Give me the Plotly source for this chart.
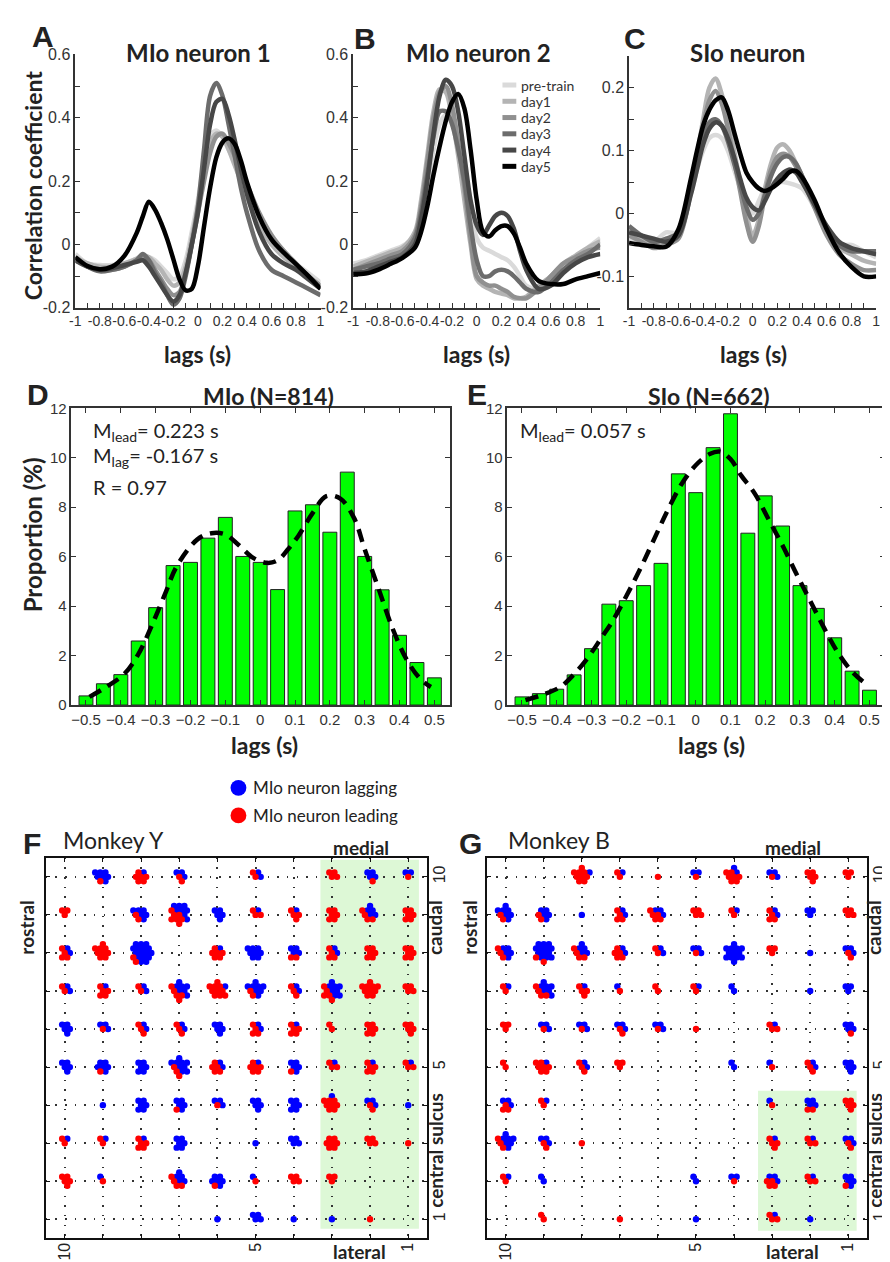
import math
import plotly.graph_objects as go

W, H = 890, 1262

# ---------------- data: cross-correlation curves (panels A-C) ----------------
lag_x = [-1, -0.9, -0.8, -0.7, -0.6, -0.5, -0.45, -0.4, -0.35, -0.3, -0.25, -0.2, -0.15, -0.1, -0.05,
         0, 0.05, 0.1, 0.15, 0.2, 0.25, 0.3, 0.35, 0.4, 0.5, 0.6, 0.7, 0.8, 0.9, 1.0]
session_names = ["pre-train", "day1", "day2", "day3", "day4", "day5"]
session_colors = ["#dadada", "#b4b4b4", "#909090", "#6c6c6c", "#474747", "#000000"]

mio1_pretrain = [-0.03, -0.06, -0.065, -0.065, -0.06, -0.045, -0.04, -0.04, -0.05, -0.07, -0.09, -0.11, -0.1, -0.05, 0.04,
                 0.14, 0.26, 0.34, 0.36, 0.34, 0.3, 0.26, 0.22, 0.17, 0.08, 0.02, -0.02, -0.06, -0.09, -0.12]
mio1_day1 = [-0.04, -0.06, -0.07, -0.07, -0.06, -0.045, -0.035, -0.04, -0.06, -0.08, -0.11, -0.13, -0.12, -0.07, 0.02,
             0.12, 0.23, 0.32, 0.35, 0.34, 0.3, 0.25, 0.2, 0.15, 0.06, 0.0, -0.04, -0.07, -0.1, -0.13]
mio1_day2 = [-0.05, -0.07, -0.08, -0.08, -0.07, -0.05, -0.04, -0.05, -0.08, -0.11, -0.14, -0.16, -0.15, -0.09, 0.0,
             0.1, 0.2, 0.29, 0.34, 0.35, 0.32, 0.28, 0.23, 0.19, 0.1, 0.03, -0.02, -0.06, -0.1, -0.13]
mio1_day3 = [-0.04, -0.07, -0.085, -0.08, -0.07, -0.05, -0.03, -0.05, -0.09, -0.12, -0.16, -0.19, -0.17, -0.1, 0.0,
             0.12, 0.3, 0.47, 0.51, 0.47, 0.38, 0.28, 0.18, 0.1, -0.02, -0.08, -0.1, -0.12, -0.14, -0.16]
mio1_day4 = [-0.05, -0.07, -0.08, -0.075, -0.065, -0.055, -0.05, -0.07, -0.1, -0.13, -0.16, -0.18, -0.16, -0.09, 0.0,
             0.1, 0.24, 0.38, 0.45, 0.46, 0.41, 0.33, 0.24, 0.16, 0.04, -0.03, -0.06, -0.08, -0.11, -0.14]
mio1_day5 = [-0.04, -0.068, -0.078, -0.07, -0.036, 0.036, 0.088, 0.135, 0.11, 0.068, 0.016, -0.047, -0.11, -0.145, -0.14,
             -0.068, 0.057, 0.18, 0.275, 0.322, 0.335, 0.317, 0.265, 0.197, 0.088, 0.016, -0.026, -0.062, -0.099, -0.14]

mio2_pretrain = [-0.06, -0.05, -0.035, -0.02, -0.005, 0.03, 0.09, 0.18, 0.3, 0.38, 0.41, 0.4, 0.33, 0.22, 0.1,
                 0.02, -0.01, -0.02, -0.03, -0.04, -0.05, -0.07, -0.1, -0.13, -0.14, -0.11, -0.07, -0.04, -0.01, 0.02]
mio2_day1 = [-0.07, -0.055, -0.04, -0.025, -0.01, 0.04, 0.14, 0.28, 0.42, 0.49, 0.48, 0.4, 0.28, 0.14, 0.0,
             -0.11, -0.13, -0.14, -0.15, -0.155, -0.16, -0.17, -0.17, -0.165, -0.13, -0.1, -0.06, -0.035, -0.01, 0.01]
mio2_day2 = [-0.08, -0.065, -0.05, -0.035, -0.02, 0.03, 0.12, 0.26, 0.4, 0.48, 0.5, 0.44, 0.32, 0.18, 0.02,
             -0.1, -0.12, -0.13, -0.13, -0.14, -0.15, -0.165, -0.17, -0.17, -0.14, -0.1, -0.06, -0.04, -0.02, -0.01]
mio2_day3 = [-0.08, -0.07, -0.06, -0.045, -0.03, 0.02, 0.1, 0.22, 0.34, 0.42, 0.42, 0.38, 0.3, 0.2, 0.06,
             -0.05, -0.1, -0.1, -0.085, -0.08, -0.085, -0.1, -0.12, -0.14, -0.15, -0.12, -0.08, -0.05, -0.03, 0.0]
mio2_day4 = [-0.09, -0.085, -0.07, -0.055, -0.04, 0.0, 0.08, 0.2, 0.35, 0.47, 0.52, 0.5, 0.42, 0.28, 0.14,
             0.06, 0.03, 0.06, 0.09, 0.1, 0.09, 0.05, -0.02, -0.08, -0.14, -0.13, -0.09, -0.06, -0.04, -0.03]
mio2_day5 = [-0.094, -0.092, -0.08, -0.062, -0.042, -0.01, 0.04, 0.12, 0.22, 0.31, 0.39, 0.45, 0.475, 0.43, 0.3,
             0.14, 0.04, 0.025, 0.045, 0.058, 0.058, 0.035, -0.01, -0.06, -0.115, -0.125, -0.125, -0.11, -0.1, -0.09]

sio_pretrain = [-0.04, -0.045, -0.045, -0.03, -0.03, 0.03, 0.07, 0.1, 0.12, 0.125, 0.12, 0.1, 0.07, 0.04, 0.015,
                0.0, 0.02, 0.04, 0.05, 0.05, 0.05, 0.048, 0.045, 0.04, 0.01, -0.03, -0.05, -0.05, -0.06, -0.07]
sio_day1 = [-0.025, -0.04, -0.05, -0.045, -0.035, 0.04, 0.09, 0.15, 0.2, 0.215, 0.19, 0.15, 0.1, 0.05, 0.0,
            -0.035, -0.01, 0.04, 0.08, 0.105, 0.11, 0.1, 0.08, 0.06, 0.015, -0.03, -0.055, -0.065, -0.075, -0.08]
sio_day2 = [-0.035, -0.045, -0.055, -0.05, -0.04, 0.035, 0.085, 0.14, 0.18, 0.195, 0.175, 0.135, 0.085, 0.035, -0.015,
            -0.045, -0.02, 0.03, 0.07, 0.09, 0.095, 0.09, 0.075, 0.055, 0.01, -0.035, -0.065, -0.08, -0.09, -0.09]
sio_day3 = [-0.02, -0.035, -0.045, -0.04, -0.03, 0.035, 0.08, 0.12, 0.145, 0.15, 0.14, 0.115, 0.08, 0.045, 0.01,
            -0.01, 0.0, 0.03, 0.06, 0.08, 0.09, 0.09, 0.08, 0.06, 0.015, -0.025, -0.05, -0.06, -0.06, -0.06]
sio_day4 = [-0.03, -0.035, -0.04, -0.045, -0.035, 0.03, 0.07, 0.11, 0.135, 0.145, 0.14, 0.12, 0.09, 0.055, 0.025,
            0.01, 0.005, 0.02, 0.04, 0.055, 0.065, 0.07, 0.065, 0.05, 0.015, -0.02, -0.045, -0.055, -0.06, -0.065]
sio_day5 = [-0.047, -0.05, -0.052, -0.053, -0.025, 0.055, 0.1, 0.14, 0.165, 0.18, 0.185, 0.165, 0.13, 0.095, 0.065,
            0.05, 0.04, 0.036, 0.04, 0.047, 0.056, 0.066, 0.068, 0.058, 0.022, -0.025, -0.062, -0.085, -0.1, -0.1]

# ---------------- data: lag histograms (panels D-E) ----------------
hist_lags = [-0.5, -0.45, -0.4, -0.35, -0.3, -0.25, -0.2, -0.15, -0.1, -0.05, 0,
             0.05, 0.1, 0.15, 0.2, 0.25, 0.3, 0.35, 0.4, 0.45, 0.5]
mio_prop = [0.37, 0.86, 1.23, 2.59, 3.94, 5.64, 5.77, 6.75, 7.59, 6.01, 5.77,
            4.67, 7.85, 8.1, 6.99, 9.42, 6.01, 4.66, 2.82, 1.72, 1.1]
sio_prop = [0.33, 0.46, 0.64, 1.22, 2.28, 4.08, 4.22, 4.83, 5.73, 9.35, 8.59,
            10.41, 11.78, 6.95, 8.46, 7.24, 4.83, 3.91, 2.72, 1.37, 0.6]
mio_fit_x = [-0.49, -0.44, -0.39, -0.35, -0.31, -0.27, -0.24, -0.18, -0.14, -0.1, -0.06, -0.02, 0.02, 0.05,
             0.08, 0.11, 0.15, 0.19, 0.23, 0.27, 0.3, 0.34, 0.38, 0.42, 0.46, 0.49]
mio_fit_y = [0.33, 0.75, 1.26, 2.05, 3.25, 4.6, 5.6, 6.7, 6.95, 6.9, 6.45, 5.95, 5.75, 5.85,
             6.3, 6.85, 7.75, 8.45, 8.35, 7.55, 6.3, 4.7, 3.1, 1.85, 1.05, 0.73]
sio_fit_x = [-0.49, -0.44, -0.39, -0.35, -0.31, -0.27, -0.24, -0.2, -0.16, -0.12, -0.08, -0.04, 0.0, 0.04,
             0.07, 0.1, 0.13, 0.17, 0.21, 0.25, 0.29, 0.33, 0.37, 0.41, 0.45, 0.49]
sio_fit_y = [0.2, 0.42, 0.73, 1.25, 1.92, 2.75, 3.38, 4.4, 5.5, 6.7, 7.9, 8.95, 9.7, 10.15,
             10.25, 9.95, 9.3, 8.55, 7.5, 6.45, 5.3, 4.2, 3.1, 2.1, 1.35, 0.85]

# ---------------- data: electrode maps (panels F-G), rows 10..1, columns 10..1 ----------------
map_rows = [10, 9, 8, 7, 6, 5, 4, 3, 2, 1]
map_cols = [10, 9, 8, 7, 6, 5, 4, 3, 2, 1]
monkeyY_lagging = [
    [0, 7, 1, 3, 0, 2, 0, 0, 4, 2],
    [0, 0, 6, 8, 5, 1, 1, 0, 5, 0],
    [2, 0, 16, 0, 1, 8, 4, 2, 0, 0],
    [2, 1, 2, 7, 1, 8, 2, 8, 0, 0],
    [5, 3, 2, 2, 5, 2, 1, 0, 0, 0],
    [5, 6, 6, 9, 2, 1, 5, 1, 1, 1],
    [0, 1, 6, 5, 3, 5, 6, 1, 3, 1],
    [1, 1, 1, 6, 0, 1, 4, 0, 0, 0],
    [0, 1, 0, 5, 6, 1, 0, 0, 0, 0],
    [0, 0, 0, 0, 1, 4, 1, 1, 0, 0]]
monkeyY_leading = [
    [0, 1, 6, 2, 0, 2, 0, 4, 1, 1],
    [3, 0, 2, 7, 0, 3, 4, 6, 4, 6],
    [4, 9, 2, 0, 6, 0, 2, 4, 6, 6],
    [2, 5, 2, 5, 10, 2, 3, 5, 10, 4],
    [0, 1, 3, 3, 0, 4, 5, 2, 6, 5],
    [0, 1, 0, 3, 5, 6, 1, 3, 5, 3],
    [0, 0, 0, 1, 1, 0, 0, 8, 2, 0],
    [2, 2, 5, 0, 0, 0, 0, 7, 4, 1],
    [5, 1, 0, 4, 1, 1, 4, 3, 0, 0],
    [0, 0, 0, 0, 0, 0, 0, 0, 1, 0]]
monkeyB_lagging = [
    [0, 0, 1, 1, 0, 2, 2, 3, 0, 0],
    [7, 5, 1, 2, 3, 0, 1, 2, 3, 0],
    [5, 13, 5, 2, 2, 3, 13, 0, 1, 3],
    [1, 7, 1, 1, 0, 1, 2, 0, 1, 3],
    [0, 3, 3, 3, 3, 0, 0, 1, 0, 4],
    [0, 1, 2, 0, 0, 0, 2, 1, 2, 5],
    [3, 1, 0, 0, 0, 0, 0, 1, 4, 0],
    [7, 3, 0, 0, 0, 0, 0, 1, 1, 3],
    [1, 2, 0, 0, 0, 2, 2, 3, 1, 5],
    [0, 0, 0, 0, 0, 1, 0, 1, 1, 0]]
monkeyB_leading = [
    [0, 0, 9, 2, 1, 1, 7, 1, 5, 3],
    [2, 2, 0, 4, 5, 4, 2, 4, 0, 4],
    [3, 2, 4, 5, 2, 1, 0, 3, 0, 2],
    [2, 4, 4, 1, 2, 2, 0, 0, 0, 0],
    [3, 1, 1, 2, 1, 1, 0, 3, 0, 1],
    [2, 7, 3, 3, 0, 0, 0, 1, 3, 0],
    [3, 2, 0, 0, 0, 0, 0, 1, 2, 5],
    [3, 2, 1, 0, 0, 0, 0, 4, 3, 2],
    [2, 0, 0, 0, 0, 0, 1, 4, 3, 1],
    [0, 2, 0, 1, 0, 0, 0, 3, 0, 0]]
LAG_COLOR = "#0000ff"
LEAD_COLOR = "#ff0000"

# ---------------- helpers ----------------
def PX(p):
    return p / W

def PY(p):
    return 1 - p / H

TXT = "#222222"
TITLE_FONT = "Lato, Open Sans, sans-serif"
NARROW = "Liberation Sans Narrow, Arial Narrow, Liberation Sans, sans-serif"
TICK_FONT = dict(family=NARROW, size=16, color="#333333")
XTICK_FONT = dict(family=NARROW, size=14, color="#333333")
HTICK_FONT = dict(family=NARROW, size=15, color="#333333")

fig = go.Figure()

# Panels A-C
line_panels = [
    ("x", "y", [mio1_pretrain, mio1_day1, mio1_day2, mio1_day3, mio1_day4, mio1_day5]),
    ("x2", "y2", [mio2_pretrain, mio2_day1, mio2_day2, mio2_day3, mio2_day4, mio2_day5]),
    ("x3", "y3", [sio_pretrain, sio_day1, sio_day2, sio_day3, sio_day4, sio_day5]),
]
for xa, ya, curves in line_panels:
    for name, col, vals in zip(session_names, session_colors, curves):
        fig.add_trace(go.Scatter(x=lag_x, y=vals, mode="lines", name=name,
                                 line=dict(color=col, width=4.5, shape="spline", smoothing=0.9),
                                 xaxis=xa, yaxis=ya, showlegend=False, hoverinfo="skip"))

# Panels D-E
for xa, ya, props, fx, fy in [("x4", "y4", mio_prop, mio_fit_x, mio_fit_y),
                              ("x5", "y5", sio_prop, sio_fit_x, sio_fit_y)]:
    fig.add_trace(go.Bar(x=hist_lags, y=props, width=0.04, xaxis=xa, yaxis=ya,
                         marker=dict(color="#00ff00", line=dict(color="#222222", width=1)),
                         showlegend=False, hoverinfo="skip"))
    fig.add_trace(go.Scatter(x=fx, y=fy, mode="lines", xaxis=xa, yaxis=ya,
                             line=dict(color="#000000", width=4.5, dash="13px,8px", shape="spline"),
                             showlegend=False, hoverinfo="skip"))

# Panels F-G : clustered dots around electrode sites
PXU = 38.6
def hex_offsets(n, s=5.2):
    pts = []
    for j in range(-5, 6):
        for i in range(-5, 6):
            pts.append(((i + j / 2.0) * s, j * s * math.sqrt(3) / 2.0))
    pts.sort(key=lambda p: (round(math.hypot(p[0], p[1]), 3), math.atan2(p[1], p[0])))
    return pts[:n]

def cluster_points(lagging, leading):
    bx, by, rx, ry = [], [], [], []
    for ri, row in enumerate(map_rows):
        for ci, col in enumerate(map_cols):
            b = lagging[ri][ci]
            r = leading[ri][ci]
            n = b + r
            if n == 0:
                continue
            pts = hex_offsets(n)
            pts.sort(key=lambda p: -(p[0] - p[1]))
            for k, (ox, oy) in enumerate(pts):
                xv = col - ox / PXU
                yv = row - oy / PXU
                if k < b:
                    bx.append(xv); by.append(yv)
                else:
                    rx.append(xv); ry.append(yv)
    return bx, by, rx, ry

for xa, ya, lag, lead in [("x6", "y6", monkeyY_lagging, monkeyY_leading),
                          ("x7", "y7", monkeyB_lagging, monkeyB_leading)]:
    bx, by, rx, ry = cluster_points(lag, lead)
    fig.add_trace(go.Scatter(x=bx, y=by, mode="markers", xaxis=xa, yaxis=ya,
                             marker=dict(color=LAG_COLOR, size=6.4, line=dict(width=0)),
                             showlegend=False, hoverinfo="skip"))
    fig.add_trace(go.Scatter(x=rx, y=ry, mode="markers", xaxis=xa, yaxis=ya,
                             marker=dict(color=LEAD_COLOR, size=6.4, line=dict(width=0)),
                             showlegend=False, hoverinfo="skip"))

# ---------------- axes ----------------
lx_vals = [round(-1 + 0.1 * i, 1) for i in range(21)]
lx_text = [("%g" % v) if i % 2 == 0 else "" for i, v in enumerate(lx_vals)]
ly_vals = [round(-0.2 + 0.1 * i, 1) for i in range(9)]
ly_text = [("%g" % v) if i % 2 == 0 else "" for i, v in enumerate(ly_vals)]
cy_vals = [round(-0.15 + 0.05 * i, 2) for i in range(9)]
cy_text = [("%g" % v) if i % 2 == 1 else "" for i, v in enumerate(cy_vals)]

def line_ax(x0, x1, **kw):
    d = dict(domain=[PX(x0), PX(x1)], showline=True, linecolor="#333333", linewidth=1.5,
             ticks="inside", ticklen=5, tickwidth=1, tickcolor="#333333", showgrid=False,
             zeroline=False, tickfont=TICK_FONT, tickangle=0, fixedrange=True)
    d.update(kw)
    return d

def vert(y0, y1):
    return [PY(y1), PY(y0)]

layout = dict(width=W, height=H, margin=dict(l=0, r=0, t=0, b=0),
              paper_bgcolor="white", plot_bgcolor="white", showlegend=False)

# A
layout["xaxis"] = line_ax(62, 310, range=[-1, 1], tickmode="array", tickvals=lx_vals, ticktext=lx_text,
                          tickfont=XTICK_FONT, anchor="y")
layout["yaxis"] = dict(line_ax(0, 0, range=[-0.2, 0.6], tickmode="array", tickvals=ly_vals, ticktext=ly_text, anchor="x"),
                       domain=vert(38, 295))
# B
layout["xaxis2"] = line_ax(343, 593, range=[-1, 1], tickmode="array", tickvals=lx_vals, ticktext=lx_text,
                           tickfont=XTICK_FONT, anchor="y2")
layout["yaxis2"] = dict(line_ax(0, 0, range=[-0.2, 0.6], tickmode="array", tickvals=ly_vals, ticktext=ly_text, anchor="x2"),
                        domain=vert(38, 295))
# C
layout["xaxis3"] = line_ax(622, 872, range=[-1, 1], tickmode="array", tickvals=lx_vals, ticktext=lx_text,
                           tickfont=XTICK_FONT, anchor="y3")
layout["yaxis3"] = dict(line_ax(0, 0, range=[-0.15, 0.25], tickmode="array", tickvals=cy_vals, ticktext=cy_text, anchor="x3"),
                        domain=vert(40, 295))

hx_vals = [round(-0.5 + 0.1 * i, 1) for i in range(11)]
hx_text = [("%g" % v).replace("-", "\u2212") for v in hx_vals]
hy_vals = [0, 2, 4, 6, 8, 10, 12]
for n, (x0, x1) in [(4, (58, 441)), (5, (499, 881))]:
    layout["xaxis%d" % n] = line_ax(x0, x1, range=[-0.542, 0.545], tickmode="array", tickvals=hx_vals,
                                     ticktext=hx_text, mirror="ticks", tickfont=HTICK_FONT, anchor="y%d" % n)
    layout["yaxis%d" % n] = dict(line_ax(0, 0, range=[0, 12], tickmode="array", tickvals=hy_vals,
                                         mirror="ticks", tickfont=HTICK_FONT, anchor="x%d" % n),
                                 domain=vert(397, 698))

grid_vals = list(range(1, 11))
grid_text = [str(v) if v in (1, 5, 10) else "" for v in grid_vals]
MAP_TICK = dict(family=NARROW, size=16, color="#222222")
for n, (x0, x1) in [(6, (32, 418)), (7, (478, 863))]:
    common = dict(showline=True, linecolor="#111111", linewidth=2.2, mirror="ticks", ticks="inside",
                  ticklen=4, tickcolor="#111111", showgrid=True, gridcolor="#333333", gridwidth=1.6,
                  griddash="1.6px,8.05px", zeroline=False, tickfont=MAP_TICK, tickmode="array",
                  tickvals=grid_vals, ticktext=grid_text, tickangle=-90, fixedrange=True,
                  ticklabelstandoff=-4)
    layout["xaxis%d" % n] = dict(common, domain=[PX(x0), PX(x1)], range=[10.5, 0.5], anchor="y%d" % n)
    layout["yaxis%d" % n] = dict(common, domain=vert(853, 1239), range=[0.5, 10.5], side="right",
                                 anchor="x%d" % n)

# ---------------- shapes ----------------
shapes = [
    dict(type="rect", xref="x6", yref="y6", x0=3.3, x1=0.72, y0=0.75, y1=10.45,
         fillcolor="#ddf8d6", line=dict(width=0), layer="below"),
    dict(type="rect", xref="x7", yref="y7", x0=3.37, x1=0.78, y0=0.7, y1=4.38,
         fillcolor="#ddf8d6", line=dict(width=0), layer="below"),
]
annotations = []
# legend keys of panel B
for i, (name, col) in enumerate(zip(session_names, session_colors)):
    yc = 69 + 16.5 * i
    shapes.append(dict(type="line", xref="paper", yref="paper", x0=PX(494), x1=PX(508), y0=PY(yc), y1=PY(yc),
                       line=dict(color=col, width=5)))
    annotations.append(dict(xref="paper", yref="paper", x=PX(512), y=PY(yc), text=name, showarrow=False,
                            xanchor="left", yanchor="middle", borderpad=0,
                            font=dict(family=TITLE_FONT, size=14, color="#333333")))
# legend of maps
for yc, col, label in [(782, LAG_COLOR, "MIo neuron lagging"), (810, LEAD_COLOR, "MIo neuron leading")]:
    shapes.append(dict(type="circle", xref="paper", yref="paper", x0=PX(219), x1=PX(235), y0=PY(yc + 8), y1=PY(yc - 8),
                       fillcolor=col, line=dict(width=0)))
    annotations.append(dict(xref="paper", yref="paper", x=PX(240), y=PY(yc), text=label, showarrow=False,
                            xanchor="left", yanchor="middle", font=dict(family=TITLE_FONT, size=17, color="#222222")))

def txt(x, y, text, size, bold=False, angle=0, anchor="center", family=TITLE_FONT):
    annotations.append(dict(xref="paper", yref="paper", x=PX(x), y=PY(y),
                            text=("<b>%s</b>" % text) if bold else text, showarrow=False,
                            xanchor=anchor, yanchor="middle", textangle=angle,
                            font=dict(family=family, size=size, color=TXT)))

ROT_SHIFT = -8
# panel letters
for letter, x, y in [("A", 29, 20), ("B", 355, 22), ("C", 628, 22), ("D", 24, 383), ("E", 468, 383),
                     ("F", 18, 838), ("G", 462, 838)]:
    txt(x, y, letter, 30, bold=True, family="Liberation Sans, Arial, sans-serif")
# titles
txt(187, 36, "MIo neuron 1", 24, bold=True)
txt(470, 36, "MIo neuron 2", 24, bold=True)
txt(742, 36, "SIo neuron", 24, bold=True)
txt(257, 384, "MIo (N=814)", 23, bold=True)
txt(703, 384, "SIo (N=662)", 23, bold=True)
# axis titles
txt(27 + ROT_SHIFT, 171, "Correlation coefficient", 23, bold=True, angle=-90)
for x in (186, 468, 748):
    txt(x, 342, "lags (s)", 23, bold=True)
txt(27 + ROT_SHIFT, 525, "Proportion (%)", 24, bold=True, angle=-90)
txt(253, 739, "lags (s)", 23, bold=True)
txt(705, 739, "lags (s)", 23, bold=True)
# stats text
txt(78, 420, "M<sub>lead</sub>= 0.223 s", 20, anchor="left")
txt(78, 446, "M<sub>lag</sub>= -0.167 s", 20, anchor="left")
txt(78, 477, "R = 0.97", 20, anchor="left")
txt(510, 420, "M<sub>lead</sub>= 0.057 s", 20, anchor="left")
# map labels
txt(48, 835, "Monkey Y", 23, anchor="left")
txt(498, 835, "Monkey B", 23, anchor="left")
for xm in (351, 788):
    txt(xm, 843, "medial", 19, bold=True)
for xl in (349, 787):
    txt(xl, 1252, "lateral", 19, bold=True)
for xr in (21, 469):
    txt(xr + ROT_SHIFT, 924, "rostral", 19, bold=True, angle=-90)
for xc in (434, 878):
    txt(xc + ROT_SHIFT, 924, "caudal", 19, bold=True, angle=-90)
    txt(xc + ROT_SHIFT, 1150, "central sulcus", 19, bold=True, angle=-90)

layout["shapes"] = shapes
layout["annotations"] = annotations
fig.update_layout(**layout)
fig.write_html("out.html")
